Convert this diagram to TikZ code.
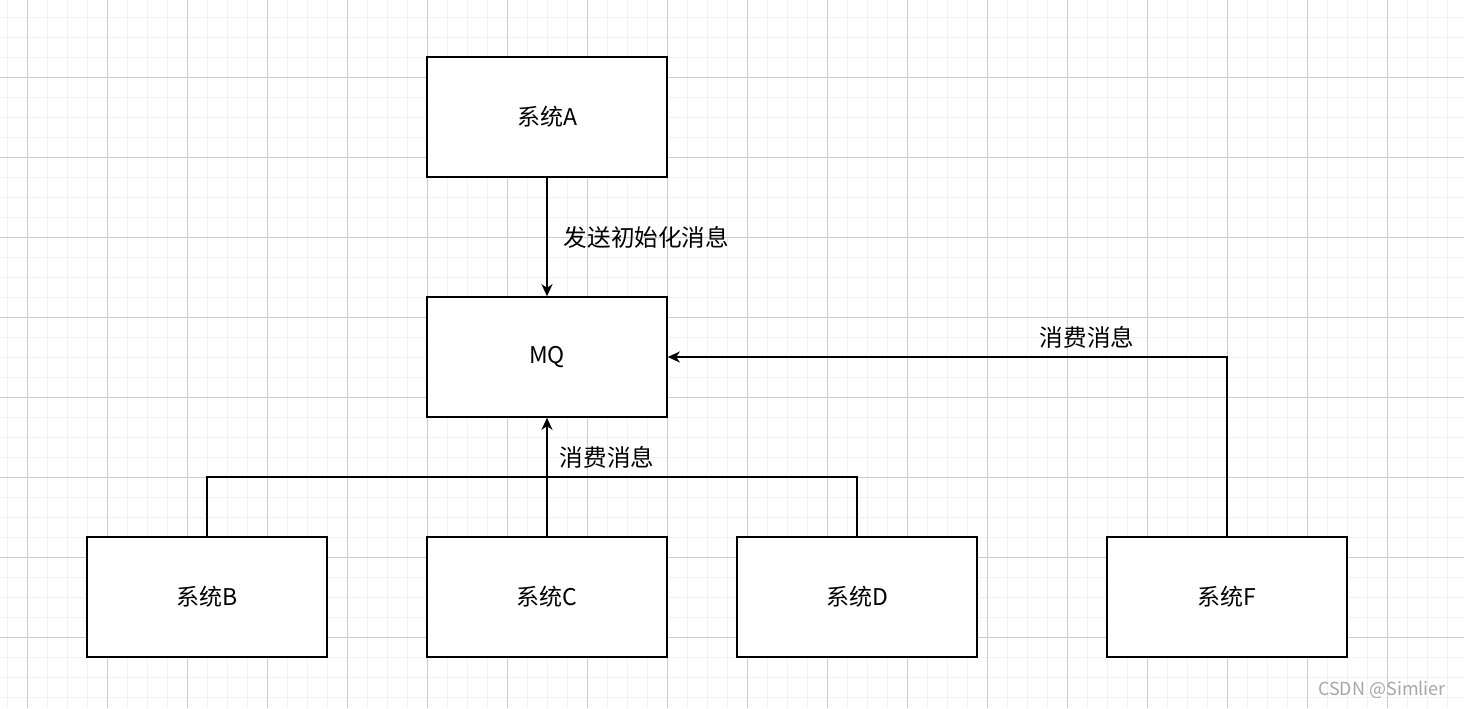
\documentclass[tikz,border=0pt]{standalone}
\usepackage{fontspec}
\setmainfont{Noto Sans CJK SC}
\usetikzlibrary{positioning,arrows.meta}

\begin{document}
\begin{tikzpicture}
	% style
	[x=0.5pt,y=-0.5pt,
	sys/.style={rectangle,draw=black,thick,fill=white,minimum width=120pt,minimum height=60pt,inner sep=0pt,font=\fontsize{11.5}{13}\selectfont},
	lbl/.style={inner sep=0pt,font=\fontsize{11.8}{13}\selectfont},
	link/.style={thick,line join=miter},
	tip/.style={-{Stealth[length=6pt,width=5.5pt,inset=1.8pt]}},
	minor/.style={draw=black!5,line width=0.5pt},
	major/.style={draw=black!20,line width=0.5pt}]

	\useasboundingbox (0,0) rectangle (1464,708);

	% grid
	\foreach \gx in {7,27,...,1464} \draw[minor] (\gx,0) -- (\gx,708);
	\foreach \gy in {17,37,...,708} \draw[minor] (0,\gy) -- (1464,\gy);
	\foreach \gx in {27,107,...,1464} \draw[major] (\gx,0) -- (\gx,708);
	\foreach \gy in {77,157,...,708} \draw[major] (0,\gy) -- (1464,\gy);

	% systems
	\node [sys] (sys_a) at (547,117) {系统A};
	\node [sys] (mq) at (547,357) {MQ};
	\node [sys] (sys_b) at (207,597) {系统B};
	\node [sys] (sys_c) at (547,597) {系统C};
	\node [sys] (sys_d) at (857,597) {系统D};
	\node [sys] (sys_f) at (1227,597) {系统F};

	% connectors
	\draw [link,tip] (sys_a) -- node[lbl,right=8pt] {发送初始化消息} (mq);
	\draw [link,tip] (sys_c) -- (mq);
	\draw [link] (sys_b.north) |- (sys_d.north |- 0,477) -- (sys_d.north);
	\draw [link,tip] (sys_f.north) |- (mq.east);
	\node [lbl] (lbl_bcd) at (607,457) {消费消息};
	\node [lbl] (lbl_f) at (1087,337) {消费消息};

	% watermark
	\node [lbl,text=black!35,font=\fontsize{9}{11}\selectfont] (mark) at (1382,690) {CSDN @Simlier};
\end{tikzpicture}
\end{document}
